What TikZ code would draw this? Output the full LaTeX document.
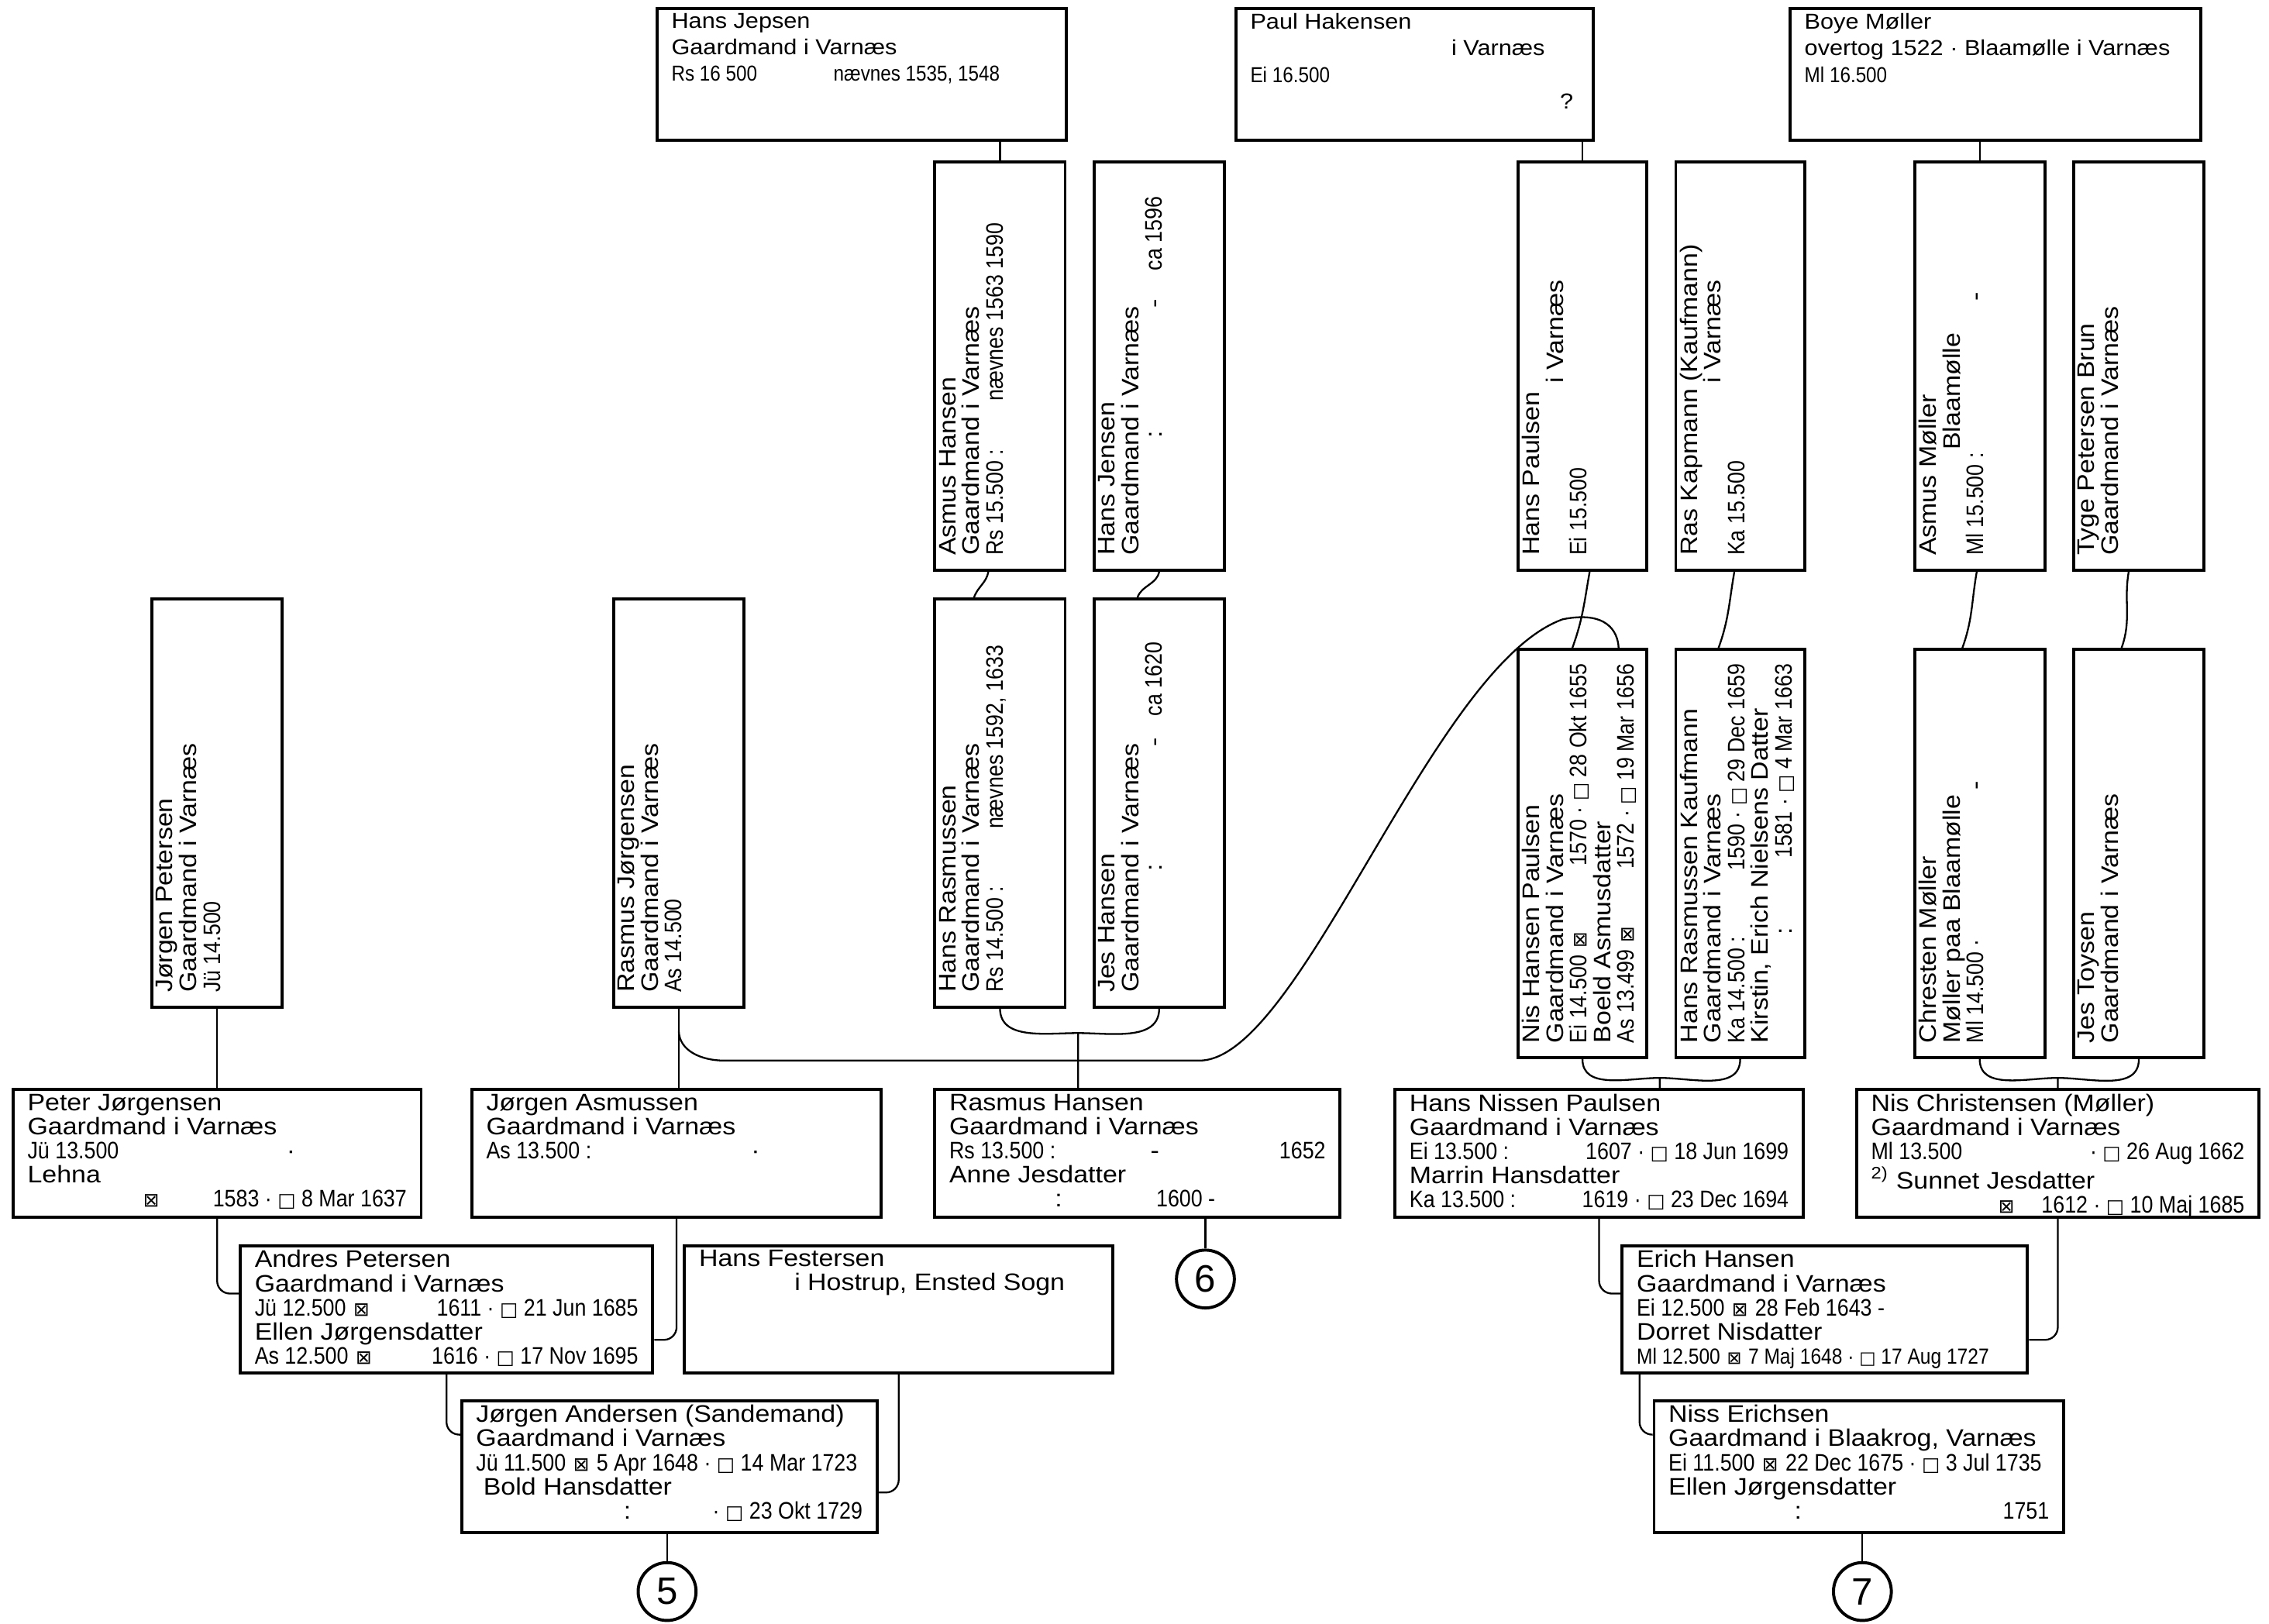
\documentclass[tikz,border=0pt]{standalone}
\usepackage{fontspec}
\setmainfont{Liberation Sans}
\newfontfamily\handf[FakeStretch=1.1]{Liberation Sans}
\newfontfamily\numf[FakeStretch=0.87]{Liberation Sans}
\newfontfamily\symf[Scale=0.8]{DejaVu Sans}
\usetikzlibrary{positioning}
\newdimen\pxu \pxu=0.02cm
\newcommand\nm[1]{{\numf #1}}
\newcommand\fodt{{\symf ⊠}}
\newcommand\dod{{\symf □}}
\newcommand\sk[1]{\hspace*{#1\pxu}}
\newcommand\lpad[2]{\makebox[#1\pxu][l]{#2}}
\newcommand\tight[1]{{\fontsize{8.6}{9.5}\selectfont #1}}
\newcommand\card[3]{\parbox[c][\dimexpr#2\pxu-0.12cm\relax][t]{\dimexpr#1\pxu-0.4cm\relax}{\raggedright#3}}

\begin{document}
\begin{tikzpicture}[
    x=0.02cm, y=-0.02cm,
    widebox/.style={draw, line width=1.2pt, anchor=north west,
                    inner xsep=0.2cm, inner ysep=0.06cm,
                    font=\handf\fontsize{9.4}{9.5}\selectfont},
    topbox/.style={widebox, font=\handf\fontsize{8.5}{10.5}\selectfont},
    tallbox/.style={widebox, rotate=90, font=\handf\fontsize{9.4}{9.3}\selectfont},
    circ/.style={draw, circle, line width=1.2pt, minimum size=0.8cm, inner sep=0pt,
                 font=\fontsize{15}{15}\selectfont},
    link/.style={line width=0.7pt},
]
    \useasboundingbox (0,0) rectangle (1568,1122);

    % stamfaedre
    \node[topbox] (hjepsen)   at (453,5)  {\card{283}{91}{Hans Jepsen\\ Gaardmand i Varnæs\\ \lpad{112}{\nm{Rs 16 500}}\nm{nævnes 1535, 1548}}};
    \node[topbox] (phakensen) at (853,5)  {\card{247}{91}{Paul Hakensen\\ \sk{139}i Varnæs\\ \nm{Ei 16.500}\\ \sk{214}?}};
    \node[topbox] (bmoller)   at (1236,5) {\card{284}{91}{Boye Møller\\ overtog 1522 · Blaamølle i Varnæs\\ \nm{Ml 16.500}}};

    % 2. slaegtled
    \node[tallbox] (asmushansen) at (645,395)  {\card{282}{90}{Asmus Hansen\\ Gaardmand i Varnæs\\ \lpad{107}{\nm{Rs 15.500 :}}\nm{nævnes 1563 1590}}};
    \node[tallbox] (hansjensen)  at (755,395)  {\card{282}{90}{Hans Jensen\\ Gaardmand i Varnæs\\ \sk{81}\lpad{90}{:}\lpad{26}{-}\nm{ca 1596}}};
    \node[tallbox] (hanspaulsen) at (1048,395) {\card{282}{89}{Hans Paulsen\\ \sk{119}i Varnæs\\ \nm{Ei 15.500}}};
    \node[tallbox] (raskapmann)  at (1157,395) {\card{282}{89}{Ras Kapmann (Kaufmann)\\ \sk{119}i Varnæs\\ \nm{Ka 15.500}}};
    \node[tallbox] (asmusmoller) at (1322,395) {\card{282}{90}{Asmus Møller\\ \sk{73}Blaamølle\\ \lpad{176}{\nm{Ml 15.500 :}}-}};
    \node[tallbox] (tygebrun)    at (1432,395) {\card{282}{90}{Tyge Petersen Brun\\ Gaardmand i Varnæs}};

    % 3. slaegtled
    \node[tallbox] (jpetersen)  at (104,697)  {\card{282}{90}{Jørgen Petersen\\ Gaardmand i Varnæs\\ \nm{Jü 14.500}}};
    \node[tallbox] (rjorgensen) at (423,697)  {\card{282}{90}{Rasmus Jørgensen\\ Gaardmand i Varnæs\\ \nm{As 14.500}}};
    \node[tallbox] (hrasmussen) at (645,697)  {\card{282}{90}{Hans Rasmussen\\ Gaardmand i Varnæs\\ \lpad{113}{\nm{Rs 14.500 :}}\nm{nævnes 1592, 1633}}};
    \node[tallbox] (jeshansen)  at (755,697)  {\card{282}{90}{Jes Hansen\\ Gaardmand i Varnæs\\ \sk{84}\lpad{86}{:}\lpad{21}{-}\nm{ca 1620}}};
    \node[tallbox] (nhpaulsen)  at (1048,732) {\card{282}{89}{Nis Hansen Paulsen\\ Gaardmand i Varnæs\\ \nm{Ei 14.500} \fodt\hfill\nm{1570 · }\dod\nm{ 28 Okt 1655}\\ Boeld Asmusdatter\\ \nm{As 13.499} \fodt\hfill\nm{1572 · }\dod\nm{ 19 Mar 1656}}};
    \node[tallbox] (hrkaufmann) at (1157,732) {\card{282}{89}{Hans Rasmussen Kaufmann\\ Gaardmand i Varnæs\\ \nm{Ka 14.500 :}\hfill\nm{1590 · }\dod\nm{ 29 Dec 1659}\\ Kirstin, Erich Nielsens Datter\\ \sk{75}:\hfill\nm{1581 · }\dod\nm{ 4 Mar 1663}}};
    \node[tallbox] (cmoller)    at (1322,732) {\card{282}{90}{Chresten Møller\\ Møller paa Blaamølle\\ \lpad{175}{\nm{Ml 14.500 ·}}-}};
    \node[tallbox] (jestoysen)  at (1432,732) {\card{282}{90}{Jes Toysen\\ Gaardmand i Varnæs}};

    % 4. slaegtled
    \node[widebox] (pjorgensen) at (8,752)    {\card{282}{88}{Peter Jørgensen\\ Gaardmand i Varnæs\\ \lpad{179}{\nm{Jü 13.500}}·\\ Lehna\\ \sk{80}\fodt\hfill\nm{1583 · }\dod\nm{ 8 Mar 1637}}};
    \node[widebox] (jasmussen)  at (325,752)  {\card{283}{88}{Jørgen Asmussen\\ Gaardmand i Varnæs\\ \lpad{183}{\nm{As 13.500 :}}·}};
    \node[widebox] (rhansen)    at (645,752)  {\card{280}{88}{Rasmus Hansen\\ Gaardmand i Varnæs\\ \lpad{139}{\nm{Rs 13.500 :}}-\hfill\nm{1652}\\ Anne Jesdatter\\ \sk{73}\lpad{70}{:}\nm{1600 -}}};
    \node[widebox] (hnpaulsen)  at (963,752)  {\card{282}{88}{Hans Nissen Paulsen\\ Gaardmand i Varnæs\\ \nm{Ei 13.500 :}\hfill\nm{1607 · }\dod\nm{ 18 Jun 1699}\\ Marrin Hansdatter\\ \nm{Ka 13.500 :}\hfill\nm{1619 · }\dod\nm{ 23 Dec 1694}}};
    \node[widebox] (ncmoller)   at (1282,752) {\card{278}{88}{Nis Christensen (Møller)\\ Gaardmand i Varnæs\\ \nm{Ml 13.500}\hfill\nm{· }\dod\nm{ 26 Aug 1662}\\ \textsuperscript{2)} Sunnet Jesdatter\\ \sk{88}\fodt\hfill\nm{1612 · }\dod\nm{ 10 Maj 1685}}};

    % 5. slaegtled
    \node[widebox] (apetersen)  at (165,860)  {\card{285}{88}{Andres Petersen\\ Gaardmand i Varnæs\\ \nm{Jü 12.500} \fodt\hfill\nm{1611 · }\dod\nm{ 21 Jun 1685}\\ Ellen Jørgensdatter\\ \nm{As 12.500} \fodt\hfill\nm{1616 · }\dod\nm{ 17 Nov 1695}}};
    \node[widebox] (hfestersen) at (472,860)  {\card{296}{88}{Hans Festersen\\ \sk{66}i Hostrup, Ensted Sogn}};
    \node[widebox] (ehansen)    at (1120,860) {\card{280}{88}{Erich Hansen\\ Gaardmand i Varnæs\\ \nm{Ei 12.500} \fodt\ \nm{28 Feb 1643 -}\\ Dorret Nisdatter\\ \tight{\nm{Ml 12.500} \fodt\ \nm{7 Maj 1648 · }\dod\nm{ 17 Aug 1727}}}};

    % 6. slaegtled
    \node[widebox] (jandersen)  at (318,967)  {\card{287}{91}{Jørgen Andersen (Sandemand)\\ Gaardmand i Varnæs\\ \nm{Jü 11.500} \fodt\ \nm{5 Apr 1648 · }\dod\nm{ 14 Mar 1723}\\ \sk{5}Bold Hansdatter\\ \sk{102}:\hfill\nm{· }\dod\nm{ 23 Okt 1729}}};
    \node[widebox] (nerichsen)  at (1142,967) {\card{283}{91}{Niss Erichsen\\ Gaardmand i Blaakrog, Varnæs\\ \nm{Ei 11.500} \fodt\ \nm{22 Dec 1675 · }\dod\nm{ 3 Jul 1735}\\ Ellen Jørgensdatter\\ \sk{87}:\hfill\nm{1751}}};

    % henvisninger
    \node[circ] (circ5) at (461,1100) {5};
    \node[circ] (circ6) at (833,884)  {6};
    \node[circ] (circ7) at (1287,1100) {7};

    % forbindelser
    \foreach \a/\b in {hjepsen/asmushansen, phakensen/hanspaulsen, bmoller/asmusmoller}
        \draw[link] (\b.east) -- (\b.east |- \a.south);
    \foreach \a/\b in {jpetersen/pjorgensen, rjorgensen/jasmussen}
        \draw[link] (\a.west) -- (\a.west |- \b.north);
    \foreach \a/\b in {jandersen/circ5, rhansen/circ6, nerichsen/circ7}
        \draw[link] (\b.north) -- (\b.north |- \a.south);
    \foreach \a/\b/\s/\t in {asmushansen/hrasmussen/-0.16cm/-0.36cm, hansjensen/jeshansen/0cm/-0.3cm,
                             hanspaulsen/nhpaulsen/0.1cm/-0.14cm, raskapmann/hrkaufmann/-0.08cm/-0.3cm,
                             asmusmoller/cmoller/-0.04cm/-0.24cm, tygebrun/jestoysen/-0.14cm/-0.24cm}
        \draw[link] ([xshift=\s]\a.west) to[out=-100,in=70] ([xshift=\t]\b.east);

    \coordinate (join6) at (745,714);
    \coordinate (joinH) at (1147,745);
    \coordinate (joinN) at (1422,745);
    \foreach \a/\b/\j/\c in {hrasmussen/jeshansen/join6/rhansen, nhpaulsen/hrkaufmann/joinH/hnpaulsen,
                             cmoller/jestoysen/joinN/ncmoller}
        \draw[link] (\a.west) to[out=-90,in=180] (\j) to[out=0,in=-90] (\b.west)
                    (\j) -- (\j |- \c.north);

    \foreach \a/\b/\s in {pjorgensen/apetersen/0.22cm, apetersen/jandersen/0.44cm, hnpaulsen/ehansen/0.22cm}
        \draw[link, rounded corners=5pt] (\a.south) |- ([yshift=\s]\b.west);
    \foreach \a/\b/\s in {jasmussen/apetersen/-0.42cm, hfestersen/jandersen/-0.36cm, ncmoller/ehansen/-0.42cm}
        \draw[link, rounded corners=5pt] (\a.south) |- ([yshift=\s]\b.east);
    \draw[link, rounded corners=5pt] ([xshift=0.26cm]ehansen.south west) |- ([yshift=0.44cm]nerichsen.west);

    \draw[link] ([yshift=-0.3cm]rjorgensen.west) to[out=-90,in=180] (500,733) -- (830,733)
        .. controls (900,730) and (990,460) .. (1080,428)
        .. controls (1110,422) and (1118,436) .. ([xshift=0.5cm]nhpaulsen.east);
\end{tikzpicture}
\end{document}
